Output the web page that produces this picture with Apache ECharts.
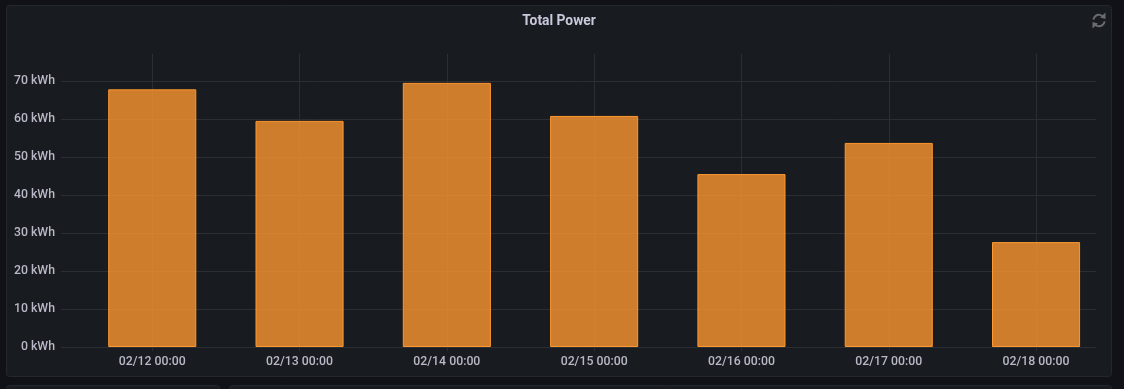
<!DOCTYPE html>
<html><head><meta charset="utf-8">
<style>html,body{margin:0;padding:0;background:#111217}#c{width:1124px;height:389px}</style>
<script src="https://cdn.jsdelivr.net/npm/echarts@6/dist/echarts.min.js"></script>
</head><body><div id="c"></div>
<script>
const title = 'Total Power';
const categories = ['02/12 00:00','02/13 00:00','02/14 00:00','02/15 00:00','02/16 00:00','02/17 00:00','02/18 00:00'];
const totalPower = [67.8, 59.5, 69.5, 60.8, 45.5, 53.7, 27.6];
const yUnit = 'kWh';
const yMax = 77.1;
const yStep = 10;

const gridTop = 54, gridHeight = 293;
const grid = '#2b2e33', text = '#b8b8c6';
const chart = echarts.init(document.getElementById('c'), null, {renderer:'canvas'});
chart.setOption({
  backgroundColor:'#111217',
  animation:false,
  textStyle:{fontFamily:'Roboto'},
  graphic:[
    {type:'rect',z:-10,silent:true,shape:{x:6.5,y:5.5,width:1105,height:371,r:3},style:{fill:'#181b1f',stroke:'#24272c',lineWidth:1}},
    {type:'rect',z:-10,silent:true,shape:{x:6.5,y:385.5,width:213,height:20,r:3},style:{fill:'#181b1f',stroke:'#24272c',lineWidth:1}},
    {type:'rect',z:-10,silent:true,shape:{x:229.5,y:385.5,width:882,height:20,r:3},style:{fill:'#181b1f',stroke:'#24272c',lineWidth:1}},
    {type:'text',z:5,silent:true,x:559,y:21.5,style:{text:title,fill:'#c9c9dc',font:'700 13.8px Roboto',textAlign:'center',textVerticalAlign:'middle'}},
    {type:'arc',z:5,silent:true,shape:{cx:1099,cy:20.5,r:5.7,startAngle:3.3,endAngle:5.5},style:{fill:'none',stroke:'#696b70',lineWidth:2}},
    {type:'arc',z:5,silent:true,shape:{cx:1099,cy:20.5,r:5.7,startAngle:0.16,endAngle:2.36},style:{fill:'none',stroke:'#696b70',lineWidth:2}},
    {type:'polygon',z:5,silent:true,shape:{points:[[1105.5,12.5],[1105.5,19],[1100,17.5]]},style:{fill:'#696b70'}},
    {type:'polygon',z:5,silent:true,shape:{points:[[1092.5,28.5],[1092.5,22],[1098,23.5]]},style:{fill:'#696b70'}}
  ],
  grid:[
    {left:61,width:1035,top:gridTop,height:gridHeight},
    {left:78.6,width:1031.1,top:gridTop,height:gridHeight}
  ],
  xAxis:[
    {gridIndex:0,type:'category',data:[],show:false},
    {gridIndex:1,type:'category',data:categories,
      axisLine:{show:false},
      axisTick:{show:true,alignWithLabel:true,length:4,lineStyle:{color:grid,width:1}},
      axisLabel:{color:text,fontSize:12.3,fontWeight:500,margin:9,interval:0,fontFamily:'Roboto'},
      splitLine:{show:true,alignWithLabel:true,lineStyle:{color:grid,width:1}}}
  ],
  yAxis:[
    {gridIndex:0,type:'value',min:0,max:yMax,interval:yStep,
      axisLine:{show:false},axisTick:{show:false},
      axisLabel:{color:text,fontSize:12.3,fontWeight:500,margin:6,showMaxLabel:false,formatter:'{value} '+yUnit,fontFamily:'Roboto'},
      splitLine:{show:true,showMaxLine:false,lineStyle:{color:grid,width:1}}},
    {gridIndex:1,type:'value',min:0,max:yMax,interval:yStep,show:false,splitLine:{show:false}}
  ],
  series:[{
    type:'bar',name:title,xAxisIndex:1,yAxisIndex:1,data:totalPower,barWidth:'59.8%',z:3,
    itemStyle:{color:'rgba(255,152,48,0.79)',borderColor:'#ff9830',borderWidth:1}
  }]
});
</script></body></html>
